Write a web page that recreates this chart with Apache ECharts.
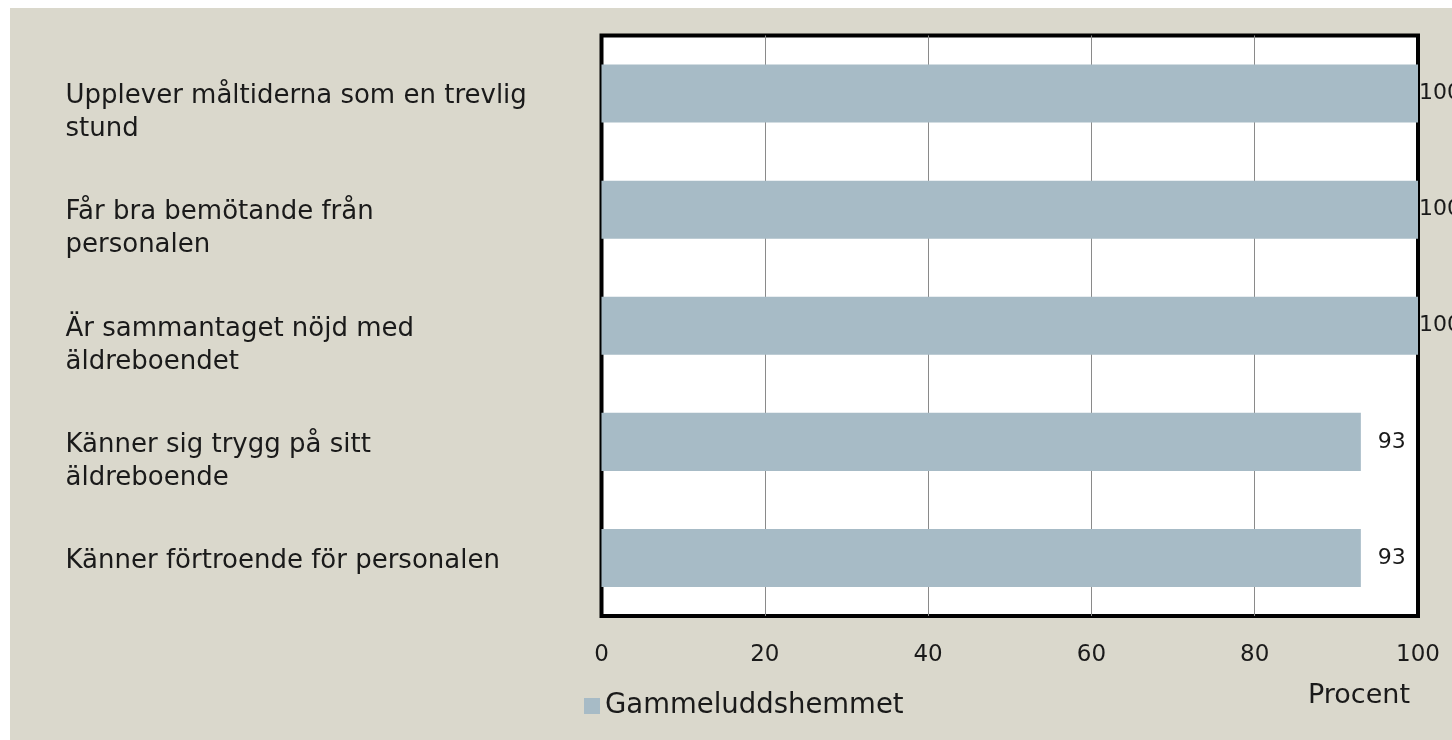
<!DOCTYPE html>
<html lang="sv">

<head>
    <meta charset="UTF-8">
    <title>Gammeluddshemmet</title>
</head>
<style>
    body {
        margin: 0;
        background: #ffffff;
    }

    .box {
        width: 1452px;
        height: 740px;
    }
</style>

<body>
    <div class="box" id="myChart"></div>
    <script src="https://cdn.jsdelivr.net/npm/echarts@6/dist/echarts.min.js"></script>
    <script>
        // data
        const categories = [
            'Upplever måltiderna som en trevlig\nstund',
            'Får bra bemötande från\npersonalen',
            'Är sammantaget nöjd med\näldreboendet',
            'Känner sig trygg på sitt\näldreboende',
            'Känner förtroende för personalen'
        ];
        const values = [100, 100, 100, 93, 93];
        const seriesName = 'Gammeluddshemmet';
        const xTicks = [0, 20, 40, 60, 80, 100];

        const font = 'DejaVu Sans';
        let myEchart = echarts.init(document.getElementById('myChart'));

        let option = {
            backgroundColor: '#ffffff',
            animation: false,
            textStyle: { fontFamily: font },
            graphic: [{
                type: 'rect',
                z: -10,
                shape: { x: 10, y: 8, width: 1442, height: 732 },
                style: { fill: '#dad8cc' }
            }],
            title: {
                text: 'Procent',
                left: 1303,
                top: 677,
                textStyle: { fontFamily: font, fontSize: 27, fontWeight: 'normal', color: '#1a1a1a' }
            },
            legend: {
                left: 579,
                top: 687,
                icon: 'rect',
                itemWidth: 16,
                itemHeight: 16,
                textStyle: { fontFamily: font, fontSize: 27.5, color: '#1a1a1a' },
                data: [seriesName]
            },
            grid: {
                left: 601.5,
                top: 35.5,
                right: 34,
                bottom: 124,
                show: true,
                backgroundColor: '#ffffff',
                borderColor: '#000000',
                borderWidth: 4
            },
            xAxis: {
                type: 'value',
                min: 0,
                max: 100,
                interval: 20,
                axisLine: { show: false },
                axisTick: { show: false },
                splitLine: {
                    showMinLine: false,
                    showMaxLine: false,
                    lineStyle: { color: '#8a8a8a', width: 1 }
                },
                axisLabel: {
                    margin: 28,
                    fontFamily: font,
                    fontSize: 23,
                    color: '#1a1a1a',
                    formatter: v => xTicks.includes(v) ? String(v) : ''
                }
            },
            yAxis: {
                type: 'category',
                inverse: true,
                data: categories,
                axisLine: { show: false },
                axisTick: { show: false },
                splitLine: { show: false },
                axisLabel: {
                    align: 'left',
                    margin: 536,
                    fontFamily: font,
                    fontSize: 26,
                    lineHeight: 33,
                    color: '#1a1a1a',
                    // small spacer on top pushes text a few px down;
                    // two-line labels get a blank line so their first line sits level with the bar
                    formatter: v => '{gap| }\n' + (v.includes('\n') ? '\n' + v : v),
                    rich: {
                        gap: { fontSize: 6, height: 6, lineHeight: 6 }
                    }
                }
            },
            series: [{
                name: seriesName,
                type: 'bar',
                barWidth: '50%',
                itemStyle: { color: '#a7bbc6' },
                label: {
                    show: true,
                    position: 'right',
                    fontFamily: font,
                    fontSize: 22,
                    color: '#1a1a1a'
                },
                data: values.map(v => ({
                    value: v,
                    label: { distance: v >= 100 ? 1 : 17 }
                }))
            }]
        };
        myEchart.setOption(option, true);
    </script>
</body>

</html>
